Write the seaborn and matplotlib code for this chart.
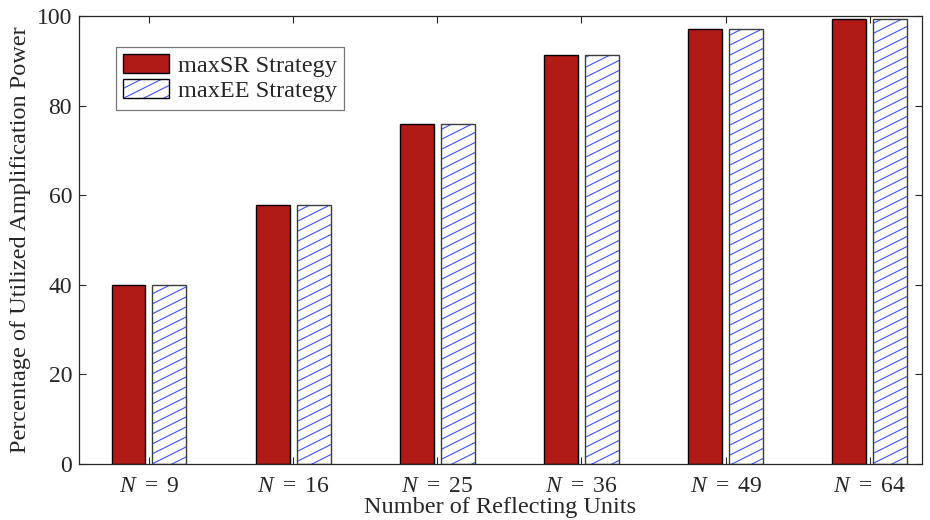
import matplotlib
matplotlib.use("Agg")
import numpy as np
import matplotlib.pyplot as plt
import matplotlib.hatch as mhatch
from matplotlib.patches import Rectangle
import seaborn as sns
import pandas as pd

# Number of reflecting units per configuration
units = [9, 16, 25, 36, 49, 64]
tick_labels = [rf"$N\ =\ {n}$" for n in units]
strategies = ["maxSR Strategy", "maxEE Strategy"]

# Percentage of the amplification power budget actually used
max_sr = [40.0, 57.8, 76.0, 91.4, 97.2, 99.3]
max_ee = [40.0, 57.8, 76.0, 91.4, 97.2, 99.3]


class ShallowNorthEastHatch(mhatch.HatchPatternBase):
    """'/' hatch drawn with a shallow slope of 1/2 instead of 45 degrees."""

    def __init__(self, hatch, density):
        n = hatch.count('/') * 5
        self.offsets = np.arange(-0.5, 1.0 + 1e-9, 1.0 / n) if n else np.empty(0)
        self.num_vertices = 2 * len(self.offsets)

    def set_vertices_and_codes(self, vertices, codes):
        vertices[0::2, 0] = 0.0
        vertices[0::2, 1] = self.offsets
        vertices[1::2, 0] = 1.0
        vertices[1::2, 1] = self.offsets + 0.5
        codes[0::2] = mhatch.Path.MOVETO
        codes[1::2] = mhatch.Path.LINETO


mhatch._hatch_types = [ShallowNorthEastHatch if t is mhatch.NorthEastHatch else t
                       for t in mhatch._hatch_types]

sns.set_theme(style="white")
plt.rcParams["font.family"] = ["Liberation Serif", "DejaVu Serif"]
plt.rcParams["mathtext.fontset"] = "custom"
plt.rcParams["mathtext.rm"] = "Liberation Serif"
plt.rcParams["mathtext.it"] = "Liberation Serif:italic"
plt.rcParams["hatch.linewidth"] = 0.8

df = pd.DataFrame({
    "units": tick_labels * 2,
    "strategy": [strategies[0]] * len(units) + [strategies[1]] * len(units),
    "value": max_sr + max_ee,
})

red = "#B01B15"
hatch_blue = "#3F55F2"
axis_gray = "#262626"

fig = plt.figure(figsize=(9.3, 5.2), dpi=100)
ax = fig.add_axes([0.085, 0.108, 0.906, 0.861])

sns.barplot(
    data=df, x="units", y="value", hue="strategy",
    order=tick_labels, hue_order=strategies,
    palette=[red, "white"], saturation=1, width=0.568, gap=0.17,
    edgecolor="black", linewidth=1.0, errorbar=None, ax=ax, legend=False,
)

# Hatched bars: blue hatching, then a thin dark outline on top
for bar in ax.containers[1]:
    bar.set_hatch("//")
    bar.set_edgecolor(hatch_blue)
    bar.set_linewidth(0)
    x0, y0 = bar.get_xy()
    ax.add_patch(Rectangle((x0, y0), bar.get_width(), bar.get_height(),
                           fill=False, edgecolor="#3c3c3c", linewidth=1.0,
                           zorder=bar.get_zorder() + 0.1))

ax.set_xlim(-0.485, 5.36)
ax.set_ylim(0, 100)
ax.set_yticks([0, 20, 40, 60, 80, 100])

for side in ["left", "right", "top", "bottom"]:
    ax.spines[side].set_visible(True)
    ax.spines[side].set_color(axis_gray)
    ax.spines[side].set_linewidth(0.9)

ax.tick_params(axis="both", direction="in", length=5, width=0.8, color=axis_gray,
               labelsize=17, labelcolor=axis_gray,
               top=True, right=True, bottom=True, left=True)
ax.tick_params(axis="x", pad=9)
ax.tick_params(axis="y", pad=5)

ax.set_xlabel("Number of Reflecting Units", fontsize=17.5, color=axis_gray, labelpad=0)
ax.set_ylabel("Percentage of Utilized Amplification Power", fontsize=17.5,
              color=axis_gray, labelpad=4)

# Legend handles mirroring the two bar styles
h_sr = Rectangle((0, 0), 1, 1, facecolor=red, edgecolor="black", linewidth=1.0)
h_ee = Rectangle((0, 0), 1, 1, facecolor="white", edgecolor=hatch_blue, hatch="//", linewidth=0)
h_ee_box = Rectangle((0, 0), 1, 1, fill=False, edgecolor="black", linewidth=1.0)
leg = ax.legend([h_sr, (h_ee, h_ee_box)], strategies, loc="upper left",
                bbox_to_anchor=(0.0434, 0.931), fontsize=17.5,
                frameon=True, fancybox=False, edgecolor="#555555",
                handlelength=1.9, handleheight=0.8, handletextpad=0.35,
                labelspacing=0.1, borderpad=0.3, borderaxespad=0)
leg.get_frame().set_linewidth(0.9)
for t in leg.get_texts():
    t.set_color(axis_gray)

fig.savefig("out.png", dpi=100, facecolor="white")
